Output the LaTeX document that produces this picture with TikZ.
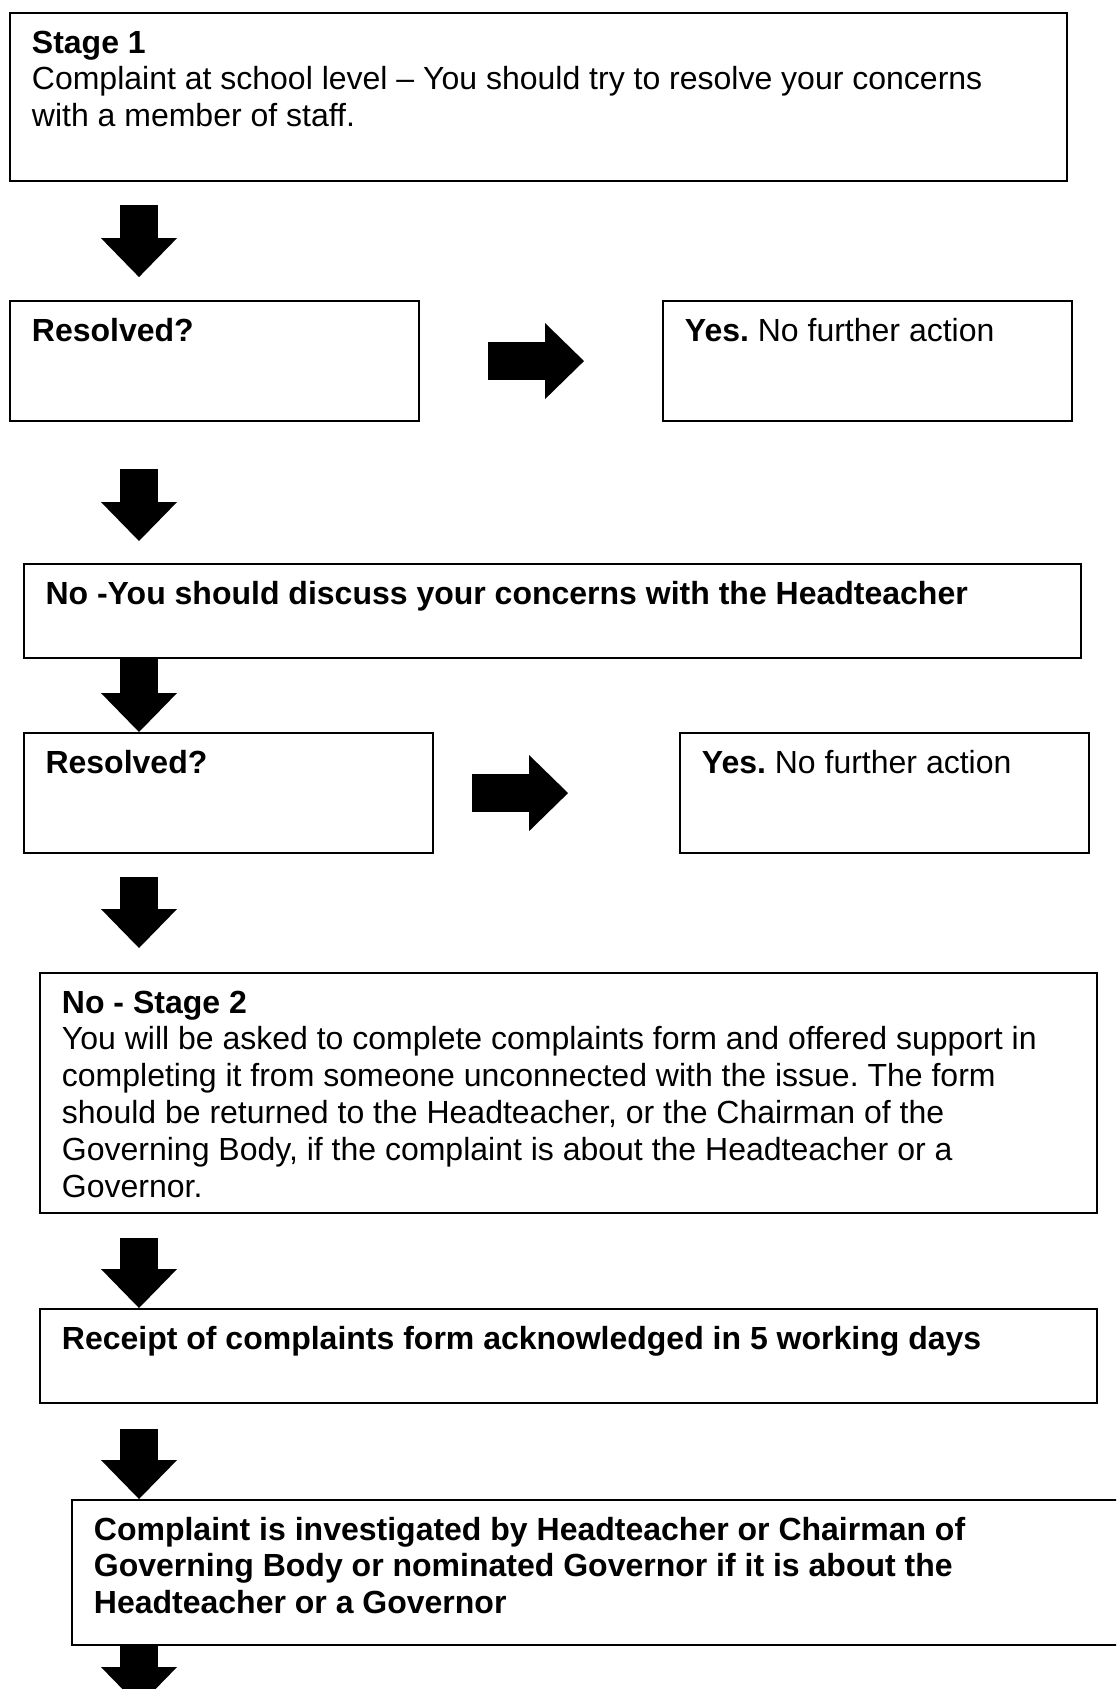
\documentclass[tikz,border=0pt]{standalone}
\usepackage{fontspec}
\setmainfont{Liberation Sans}
\usetikzlibrary{arrows.meta}
\frenchspacing

\begin{document}
\begin{tikzpicture}[x=0.375pt, y=-0.375pt, line width = 0.8pt]
\tikzstyle{every node}=[font=\fontsize{12}{13.8}\selectfont];
\tikzstyle{box}=[draw, rectangle, anchor=north west, inner xsep=0pt, inner ysep=0pt, minimum width=396.4pt, text width=380pt, align=flush left, text height=15pt];
\tikzstyle{smallbox}=[box, minimum width=153.4pt, text width=137pt];
\tikzstyle{blockarrow}=[line width=14.25pt, -{Triangle[width=28.5pt, length=14.6pt, line width=0pt]}];

\useasboundingbox (0,0) rectangle (1116,1689);
\clip (0,0) rectangle (1116,1689);

\draw(9,12) node[box, text depth=48pt] (stage1) {{\bfseries Stage 1}\\Complaint at school level – You should try to resolve your concerns\\with a member of staff.};
\draw(9,300) node[smallbox, text depth=30pt] (res1) {\bfseries Resolved?};
\draw(662,300) node[smallbox, text depth=30pt] (yes1) {{\bfseries Yes.} No further action};
\draw(22.6,563) node[box, text depth=20.25pt] (no1) {\bfseries No -You should discuss your concerns with the Headteacher};
\draw(22.6,732) node[smallbox, text depth=30pt] (res2) {\bfseries Resolved?};
\draw(679,732) node[smallbox, text depth=30pt] (yes2) {{\bfseries Yes.} No further action};
\draw(39,972) node[box, text depth=75pt] (stage2) {{\bfseries No - Stage 2}\\You will be asked to complete complaints form and offered support in\\completing it from someone unconnected with the issue. The form\\should be returned to the Headteacher, or the Chairman of the\\Governing Body, if the complaint is about the Headteacher or a\\Governor.};
\draw(39,1308) node[box, text depth=20.25pt] (receipt) {\bfseries Receipt of complaints form acknowledged in 5 working days};
\draw(71,1499) node[box, text depth=39.4pt] (complaint) {\bfseries Complaint is investigated by Headteacher or Chairman of\\Governing Body or nominated Governor if it is about the\\Headteacher or a Governor};

\coordinate (ax) at (139,0);
\coordinate (exit) at (139,1706);

\draw[blockarrow, shorten <=8.6pt, shorten >=8.6pt] (stage1.south -| ax) -- (res1.north -| ax);
\draw[blockarrow, shorten <=25.5pt, shorten >=29.25pt] (res1.east) -- (yes1.west);
\draw[blockarrow, shorten <=17.6pt, shorten >=8.25pt] (res1.south -| ax) -- (no1.north -| ax);
\draw[blockarrow] (no1.south -| ax) -- (res2.north -| ax);
\draw[blockarrow, shorten <=14.4pt, shorten >=41.6pt] (res2.east) -- (yes2.west);
\draw[blockarrow, shorten <=8.6pt, shorten >=9pt] (res2.south -| ax) -- (stage2.north -| ax);
\draw[blockarrow, shorten <=9pt] (stage2.south -| ax) -- (receipt.north -| ax);
\draw[blockarrow, shorten <=9.4pt] (receipt.south -| ax) -- (complaint.north -| ax);
% last step runs on past the page
\draw[blockarrow] (complaint.south -| ax) -- (exit);
\end{tikzpicture}
\end{document}
